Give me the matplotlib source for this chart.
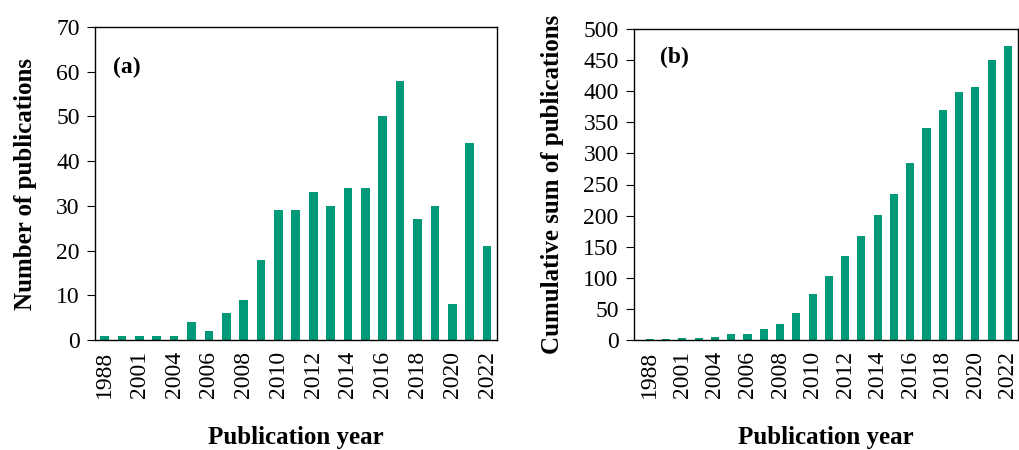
import numpy as np
import matplotlib
matplotlib.use('Agg')
import matplotlib.pyplot as plt

years = ['1988', '1999', '2001', '2003', '2004', '2005', '2006', '2007', '2008',
         '2009', '2010', '2011', '2012', '2013', '2014', '2015', '2016', '2017',
         '2018', '2019', '2020', '2021', '2022']
counts = [1, 1, 1, 1, 1, 4, 2, 6, 9, 18, 29, 29, 33, 30, 34, 34, 50, 58, 27, 30, 8, 44, 21]
cumulative = [1, 2, 3, 4, 5, 9, 10, 17, 26, 44, 74, 103, 135, 167, 201, 235, 285,
              341, 369, 398, 407, 450, 472]

green = '#009a78'
plt.rcParams['font.family'] = ['Liberation Serif', 'DejaVu Serif']

fig = plt.figure(figsize=(10.19, 4.5), dpi=100)
ax1 = fig.add_axes([95 / 1019, 110 / 450, 402 / 1019, 313 / 450])
ax2 = fig.add_axes([634 / 1019, 110 / 450, 384 / 1019, 311 / 450])

x = np.arange(len(years))


def style(ax, data, ylim, step, ylabel, tag, xlim, tagpos):
    ax.bar(x, data, width=0.5, color=green)
    ax.set_xlim(*xlim)
    ax.set_ylim(0, ylim)
    ax.set_yticks(np.arange(0, ylim + 1, step))
    ax.set_xticks(x[::2])
    ax.set_xticklabels(years[::2], rotation=90)
    ax.tick_params(axis='x', length=0, labelsize=17, pad=8)
    ax.tick_params(axis='y', direction='out', length=6, labelsize=17, pad=5)
    for s in ax.spines.values():
        s.set_linewidth(1.0)
    ax.set_ylabel(ylabel, fontsize=18, fontweight='bold', labelpad=14)
    ax.set_xlabel('Publication year', fontsize=18, fontweight='bold', labelpad=20)
    ax.text(tagpos[0], tagpos[1], tag, transform=ax.transAxes, fontsize=17,
            fontweight='bold', va='center')


style(ax1, counts, 70, 10, 'Number of publications', '(a)', (-0.55, 22.57), (0.045, 0.872))
style(ax2, cumulative, 500, 50, 'Cumulative sum of publications', '(b)', (-0.97, 22.62), (0.067, 0.907))

fig.savefig('out.png', dpi=100)
